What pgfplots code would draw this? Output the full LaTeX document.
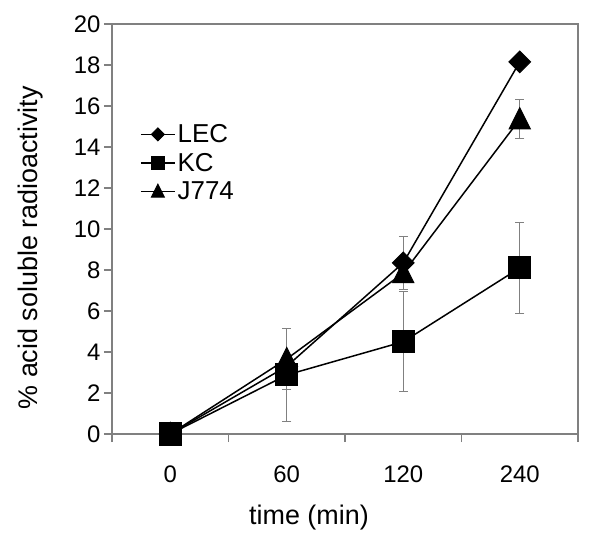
\documentclass[border=0pt]{standalone}
\usepackage{pgfplots}
\pgfplotsset{compat=1.18}
\usepackage{fontspec}
\setmainfont{Liberation Sans}
\pgfdeclareplotmark{mydiamond}{%
  \pgfpathmoveto{\pgfqpoint{0pt}{\pgfplotmarksize}}%
  \pgfpathlineto{\pgfqpoint{\pgfplotmarksize}{0pt}}%
  \pgfpathlineto{\pgfqpoint{0pt}{-\pgfplotmarksize}}%
  \pgfpathlineto{\pgfqpoint{-\pgfplotmarksize}{0pt}}%
  \pgfpathclose
  \pgfusepathqfillstroke}
\pgfdeclareplotmark{mytri}{%
  \pgfpathmoveto{\pgfqpoint{0pt}{1.1\pgfplotmarksize}}%
  \pgfpathlineto{\pgfqpoint{\pgfplotmarksize}{-0.9\pgfplotmarksize}}%
  \pgfpathlineto{\pgfqpoint{-\pgfplotmarksize}{-0.9\pgfplotmarksize}}%
  \pgfpathclose
  \pgfusepathqfillstroke}
\pgfdeclareplotmark{mysq}{%
  \pgfpathrectangle{\pgfqpoint{-\pgfplotmarksize}{-\pgfplotmarksize}}{\pgfqpoint{2\pgfplotmarksize}{2\pgfplotmarksize}}%
  \pgfusepathqfillstroke}
\begin{document}
\begin{tikzpicture}
\useasboundingbox (0bp,0bp) rectangle (600bp,544bp);
\begin{axis}[
  at={(112bp,110bp)}, anchor=south west,
  scale only axis, width=466bp, height=410bp,
  xmin=-0.5, xmax=3.5, ymin=0, ymax=20,
  xtick={0,1,2,3}, xticklabels={0,60,120,240},
  minor xtick={-0.5,0.5,1.5,2.5,3.5},
  ytick={0,2,...,20},
  xtick pos=left, ytick pos=left,
  tick align=outside,
  major tick length=8bp, minor tick length=8bp,
  major x tick style={draw=none},
  tick style={draw=gray, line width=1.2bp},
  axis line style={draw=gray, line width=1.2bp},
  clip=false,
  /pgf/number format/assume math mode=true,
  tick label style={font=\fontsize{24}{28}\selectfont},
  xticklabel style={yshift=-20bp},
  xlabel={time (min)},
  ylabel={\% acid soluble radioactivity},
  every axis x label/.style={at={(axis description cs:0.4227,0)}, anchor=center, yshift=-84bp, font=\fontsize{27}{32}\selectfont},
  every axis y label/.style={at={(axis description cs:0,0.454)}, rotate=90, anchor=center, yshift=81bp, font=\fontsize{27}{32}\selectfont},
  legend style={at={(axis description cs:0.06,0.76)}, anchor=north west, draw=none, fill=none,
    font=\fontsize{26}{30}\selectfont, row sep=5bp, inner sep=0bp},
  legend cell align=left,
  legend image code/.code={\draw[mark repeat=2, mark phase=2, mark size=6.5bp] plot coordinates {(0bp,0bp) (17bp,0bp) (34bp,0bp)};},
  error bars/error bar style={draw=gray, line width=1bp},
  error bars/error mark options={draw=gray, rotate=90, mark size=4.5bp, line width=1bp},
]
\addplot[black, line width=1.5bp, mark=mydiamond, mark size=10.8bp, mark options={fill=black, draw=black, line width=1bp},
  error bars/.cd, y dir=both, y explicit]
  coordinates {(0,0) +- (0,0) (1,3.3) +- (0,0) (2,8.35) +- (0,1.3) (3,18.15) +- (0,0)};
\addlegendentry{LEC}
\addplot[black, line width=1.5bp, mark=mysq, mark size=11bp, mark options={fill=black, draw=black, line width=1bp},
  error bars/.cd, y dir=both, y explicit]
  coordinates {(0,0) +- (0,0) (1,2.88) +- (0,2.25) (2,4.5) +- (0,2.44) (3,8.1) +- (0,2.24)};
\addlegendentry{KC}
\addplot[black, line width=1.5bp, mark=mytri, mark size=10.5bp, mark options={fill=black, draw=black, line width=1bp},
  error bars/.cd, y dir=both, y explicit]
  coordinates {(0,0) +- (0,0) (1,3.66) +- (0,1.5) (2,7.85) +- (0,0) (3,15.35) +- (0,0.95)};
\addlegendentry{J774}
\draw[gray, line width=1.2bp] (rel axis cs:0,1) -- (rel axis cs:1,1) -- (rel axis cs:1,0);
\end{axis}
\end{tikzpicture}
\end{document}
